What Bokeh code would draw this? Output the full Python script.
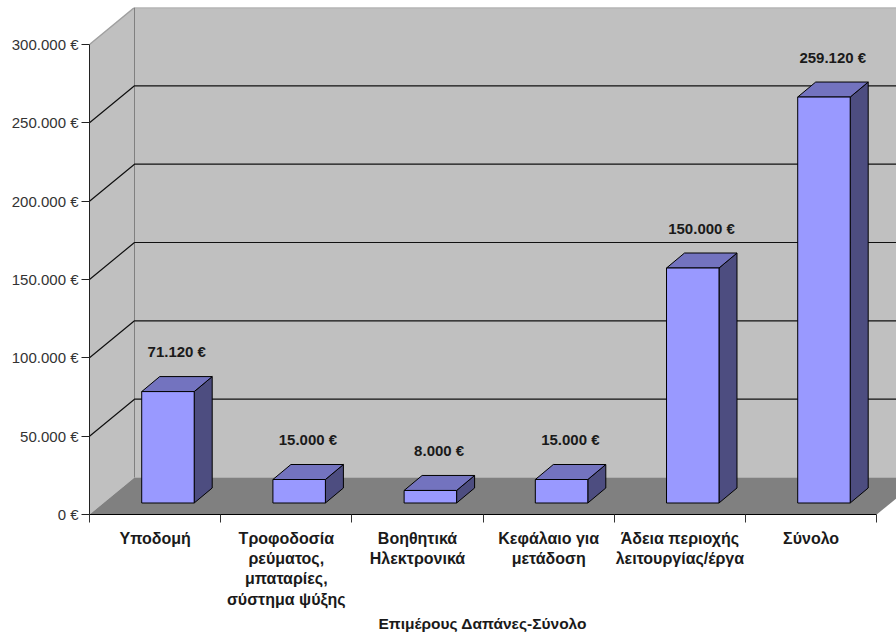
from bokeh.core.properties import value
from bokeh.embed import file_html
from bokeh.models import FixedTicker, Range1d, Title
from bokeh.plotting import figure
from bokeh.resources import INLINE

# Expense categories and amounts in euro
categories = [
    "Υποδομή",
    "Τροφοδοσία\nρεύματος,\nμπαταρίες,\nσύστημα ψύξης",
    "Βοηθητικά\nΗλεκτρονικά",
    "Κεφάλαιο για\nμετάδοση",
    "Άδεια περιοχής\nλειτουργίας/έργα",
    "Σύνολο",
]
amounts = [71120, 15000, 8000, 15000, 150000, 259120]
y_ticks = [0, 50000, 100000, 150000, 200000, 250000, 300000]
x_title = "Επιμέρους Δαπάνες-Σύνολο"


def euro(v):
    return f"{v:,}".replace(",", ".") + " €"


# Frame size in pixels and the scales it implies
LEFT, TOP, BOTTOM = 89, 7, 122
W, H = 896, 636
CAT_PX = 131.2
EURO_PER_PX = 300000 / 470
X_END = (W - LEFT) / CAT_PX
Y_END = (H - BOTTOM - TOP) * EURO_PER_PX

# Oblique projection offsets for the chart box and the columns
BOX_DX = 45 / CAT_PX
BOX_DY = 37 * EURO_PER_PX
BAR_DX = 18 / CAT_PX
BAR_DY = 15 * EURO_PER_PX
BAR_BASE = 11.5 * EURO_PER_PX
BAR_START, BAR_END = 0.398, 0.798
N = len(categories)
TOP_VALUE = y_ticks[-1]

p = figure(
    width=W, height=H, output_backend="svg", toolbar_location=None,
    x_range=Range1d(0, X_END), y_range=Range1d(0, Y_END),
    min_border_left=LEFT, min_border_right=0, min_border_top=TOP, min_border_bottom=BOTTOM,
    outline_line_color=None, background_fill_color="white",
)
p.xgrid.visible = False
p.ygrid.visible = False

# Side wall, back wall and floor
p.patch([0, BOX_DX, BOX_DX, 0], [0, BOX_DY, TOP_VALUE + BOX_DY, TOP_VALUE],
        fill_color="#c0c0c0", line_color=None)
p.patch([BOX_DX, X_END, X_END, BOX_DX], [BOX_DY, BOX_DY, TOP_VALUE + BOX_DY, TOP_VALUE + BOX_DY],
        fill_color="#c0c0c0", line_color=None)
p.patch([0, N, N + BOX_DX, BOX_DX], [0, 0, BOX_DY, BOX_DY],
        fill_color="#808080", line_color=None)

# Edges of the walls
p.line([0, BOX_DX, X_END], [TOP_VALUE, TOP_VALUE + BOX_DY, TOP_VALUE + BOX_DY],
       line_color="#a0a0a0", line_width=1.5)
p.line([BOX_DX, BOX_DX], [BOX_DY, TOP_VALUE + BOX_DY], line_color="#808080", line_width=1)

# Gridlines run along the side wall and across the back wall
for t in y_ticks[1:-1]:
    p.line([0, BOX_DX, X_END], [t, t + BOX_DY, t + BOX_DY], line_color="#101010", line_width=1.2)

# Columns: front, side and top faces
for i, v in enumerate(amounts):
    x0, x1 = i + BAR_START, i + BAR_END
    y0, y1 = BAR_BASE, BAR_BASE + v
    p.patch([x1, x1 + BAR_DX, x1 + BAR_DX, x1], [y0, y0 + BAR_DY, y1 + BAR_DY, y1],
            fill_color="#4d4d80", line_color="black", line_width=1)
    p.patch([x0, x1, x1 + BAR_DX, x0 + BAR_DX], [y1, y1, y1 + BAR_DY, y1 + BAR_DY],
            fill_color="#7373bf", line_color="black", line_width=1)
    p.patch([x0, x1, x1, x0], [y0, y0, y1, y1],
            fill_color="#9999ff", line_color="black", line_width=1)

# Amount above each column
p.text(
    x=[i + 0.665 for i in range(N)],
    y=[v + BAR_BASE for v in amounts],
    text=[euro(v) for v in amounts],
    y_offset=-40,
    text_align="center", text_baseline="middle",
    text_font=value("Liberation Sans"), text_font_size="15px", text_font_style="bold",
    text_color="#1a1a1a",
)

# Value axis
ya = p.yaxis[0]
ya.bounds = (0, TOP_VALUE)
ya.ticker = FixedTicker(ticks=y_ticks)
ya.major_label_overrides = {t: euro(t) for t in y_ticks}
ya.major_label_text_font = "Liberation Sans"
ya.major_label_text_font_size = "15px"
ya.major_label_text_color = "#333333"
ya.major_label_standoff = 3
ya.major_tick_in = 0
ya.major_tick_out = 8
ya.minor_tick_line_color = None
ya.axis_line_color = "#222222"
ya.major_tick_line_color = "#222222"

# Category axis: labels sit between the ticks that separate the categories
xa = p.xaxis[0]
xa.bounds = (0, N)
xa.ticker = FixedTicker(ticks=[i + 0.5 for i in range(N)], minor_ticks=list(range(N + 1)))
xa.major_label_overrides = {i + 0.5: c for i, c in enumerate(categories)}
xa.major_label_text_font = "Liberation Sans"
xa.major_label_text_font_size = "16px"
xa.major_label_text_font_style = "bold"
xa.major_label_text_color = "#1a1a1a"
xa.major_label_standoff = 7
xa.major_tick_in = 0
xa.major_tick_out = 0
xa.minor_tick_in = 0
xa.minor_tick_out = 8
xa.axis_line_color = "black"
xa.minor_tick_line_color = "#333333"

# Axis title placed under the category ticks, not under the wider frame
p.add_layout(Title(
    text=x_title, align="left", offset=289, standoff=4,
    text_font="Liberation Sans", text_font_size="15.5px", text_font_style="bold",
    text_color="#1a1a1a",
), "below")

open("out.html", "w").write(file_html(p, INLINE))
